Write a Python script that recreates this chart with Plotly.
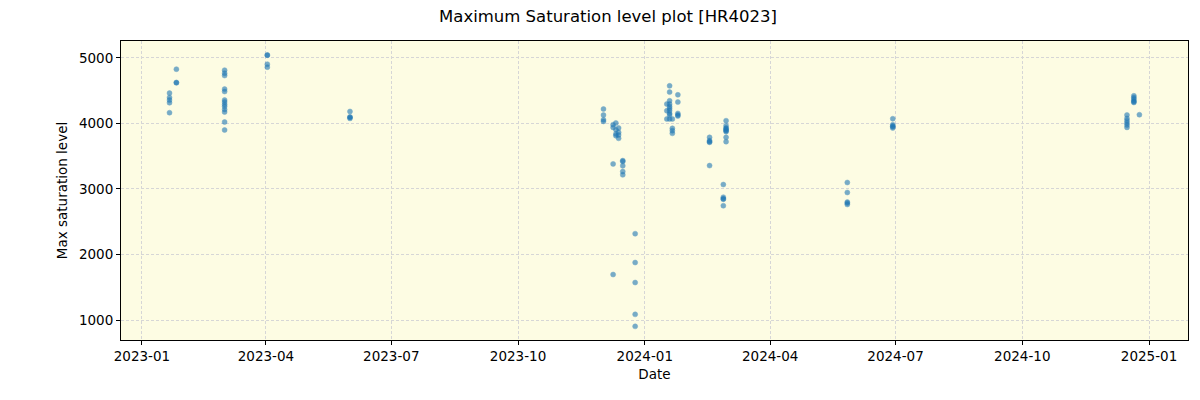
import plotly.graph_objects as go

dates = (
    ["2023-01-21"] * 5 + ["2023-01-26"] * 3
    + ["2023-03-02"] * 13 + ["2023-04-02"] * 4 + ["2023-06-01"] * 4
    + ["2023-12-02"] * 4 + ["2023-12-09"] * 4 + ["2023-12-11"] * 4
    + ["2023-12-13"] * 4 + ["2023-12-16"] * 5 + ["2023-12-25"] * 5
    + ["2024-01-17"] * 3 + ["2024-01-19"] * 10 + ["2024-01-21"] * 4
    + ["2024-01-25"] * 5 + ["2024-02-17"] * 5 + ["2024-02-27"] * 5
    + ["2024-02-29"] * 9 + ["2024-05-27"] * 5 + ["2024-06-29"] * 5
    + ["2024-12-16"] * 6 + ["2024-12-21"] * 6 + ["2024-12-25"] * 1
)
levels = [
    4463, 4396, 4357, 4316, 4164, 4828, 4620, 4625,
    4813, 4767, 4731, 4524, 4487, 4357, 4326, 4290, 4259, 4214, 4174, 4022, 3900,
    5041, 5045, 4904, 4859,
    4183, 4098, 4095, 4077,
    4220, 4129, 4057, 4031,
    3981, 3940, 3383, 1695,
    4007, 3905, 3840, 3814,
    3931, 3864, 3824, 3773,
    3433, 3420, 3353, 3266, 3216,
    2318, 1878, 1573, 1087, 904,
    4296, 4194, 4068,
    4574, 4478, 4346, 4296, 4259, 4229, 4194, 4153, 4129, 4068,
    4068, 3925, 3890, 3849,
    4437, 4326, 4153, 4129, 4113,
    3788, 3738, 3712, 3720, 3357,
    3068, 2875, 2845, 2850, 2745,
    4042, 3966, 3931, 3900, 3875, 3890, 3920, 3788, 3722,
    3099, 2947, 2800, 2785, 2764,
    4072, 3981, 3951, 3960, 3931,
    4129, 4077, 4042, 4007, 3976, 3940,
    4422, 4396, 4372, 4346, 4330, 4320,
    4133,
]

fig = go.Figure()
fig.add_trace(go.Scatter(
    x=dates,
    y=levels,
    mode="markers",
    marker=dict(color="#1f77b4", size=5, opacity=0.6,
                line=dict(color="#1f77b4", width=0.5)),
    showlegend=False,
))

axis_common = dict(
    showline=True, linecolor="black", linewidth=1, mirror=True,
    ticks="outside", ticklen=4, tickcolor="black",
    showgrid=True, gridcolor="#d6d6d6", griddash="3px,2px", gridwidth=1,
    zeroline=False, tickfont=dict(size=13.5, color="black"),
)

# the page has an 8px body margin, so the margins are shifted to compensate
fig.update_layout(
    width=1200, height=400,
    margin=dict(l=113, r=20, t=33, b=68),
    paper_bgcolor="white",
    plot_bgcolor="#fdfce3",
    font=dict(family="DejaVu Sans", color="black"),
    title=dict(text="Maximum Saturation level plot [HR4023]", x=0.5, xanchor="center",
               y=0.98, yanchor="middle", font=dict(size=16.5)),
)
fig.update_xaxes(
    **axis_common,
    range=["2022-12-16 19:00", "2025-01-29 07:00"],
    dtick="M3", tick0="2023-01-01", tickformat="%Y-%m",
    title=dict(text="Date", font=dict(size=13.5), standoff=6),
)
fig.update_yaxes(
    **axis_common,
    range=[696, 5258], dtick=1000,
    title=dict(text="Max saturation level", font=dict(size=13.5), standoff=8),
)

fig.write_html("out.html")
